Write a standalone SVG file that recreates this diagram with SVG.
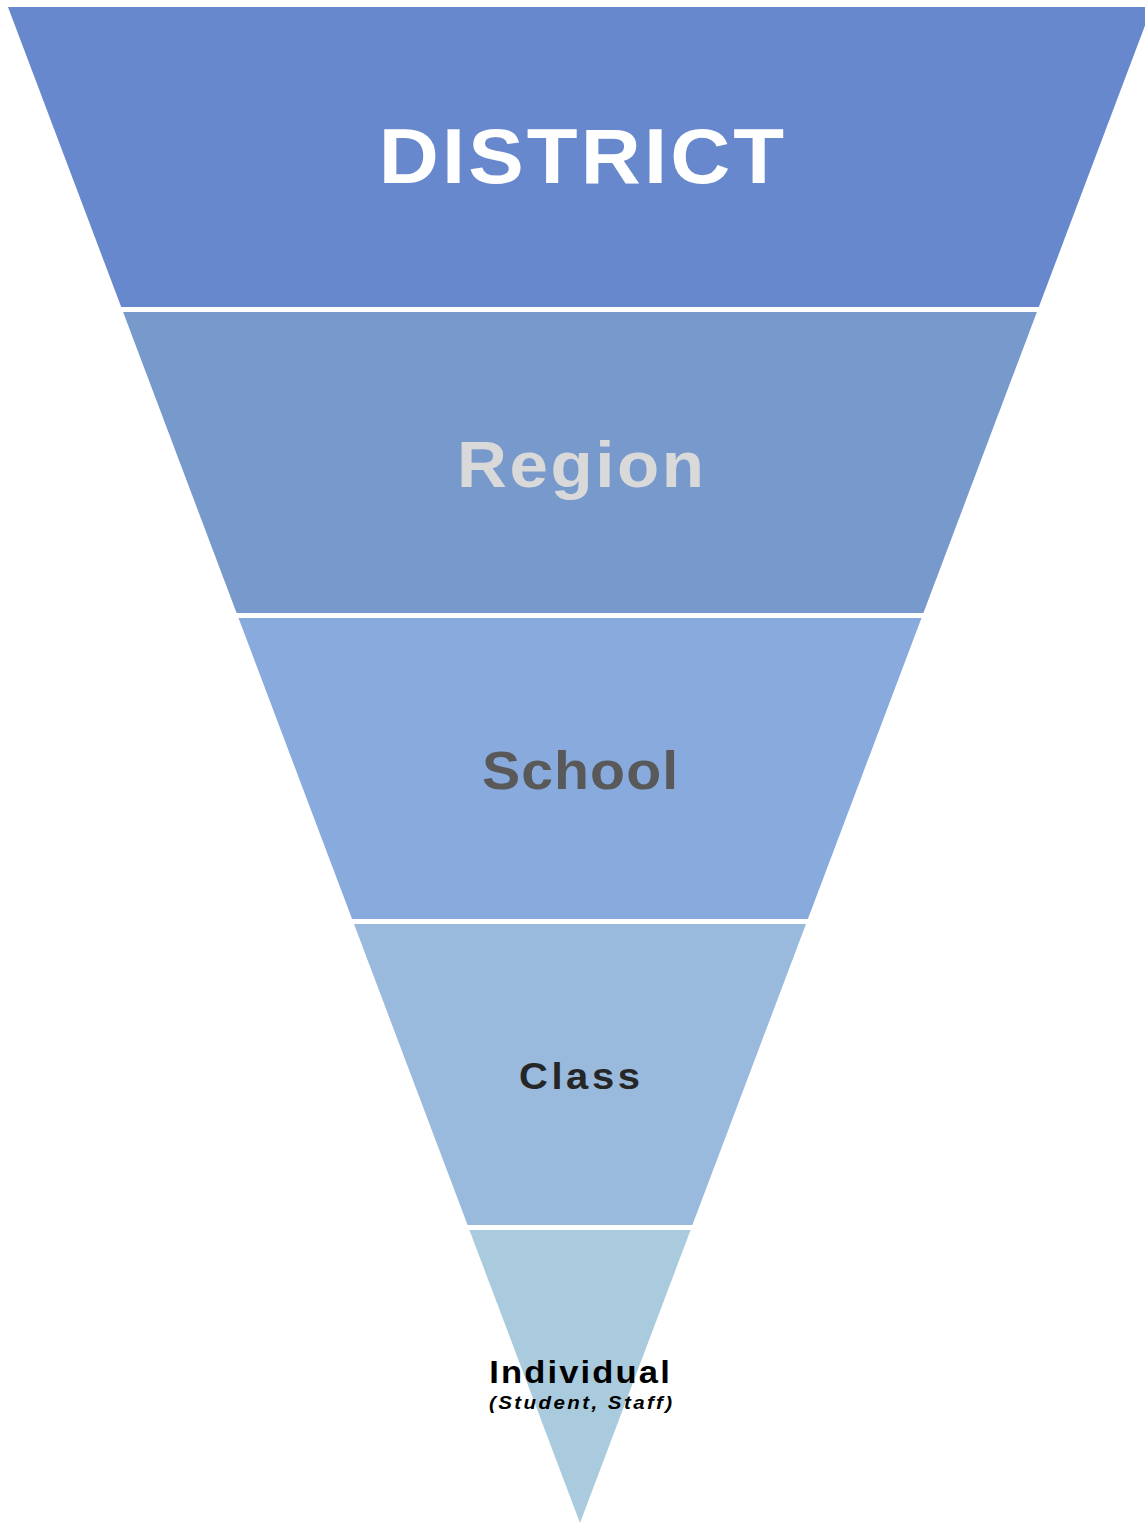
<svg xmlns="http://www.w3.org/2000/svg" width="1145" height="1523" viewBox="0 0 1145 1523">
<style>
.t{font-family:"Liberation Sans",Arial,sans-serif;font-weight:bold;text-anchor:middle}
</style>
<rect width="1145" height="1523" fill="#FFFFFF"/>
<g id="district">
<polygon points="8,7 1152,7 1038.8,307 121.2,307" fill="#6788CD"/>
<text class="t" transform="translate(581.5,183) scale(1.08,1)" x="1.4" y="0" font-size="77" letter-spacing="2.9" fill="#FFFFFF">DISTRICT</text>
</g>
<g id="region">
<polygon points="123.1,312 1036.9,312 923.4,613 236.6,613" fill="#7899CC"/>
<text class="t" transform="translate(580.5,487) scale(1.08,1)" x="1.2" y="0" font-size="64" letter-spacing="2.4" fill="#D9D9D9">Region</text>
</g>
<g id="school">
<polygon points="238.5,618 921.5,618 807.9,919 352.1,919" fill="#88AADD"/>
<text class="t" transform="translate(580,789) scale(1.08,1)" x="0.5" y="0" font-size="53" letter-spacing="1.0" fill="#595959">School</text>
</g>
<g id="class">
<polygon points="354,924 806,924 692.4,1225 467.6,1225" fill="#99BADD"/>
<text class="t" transform="translate(579.5,1089) scale(1.08,1)" x="1.6" y="0" font-size="37" letter-spacing="3.3" fill="#262626">Class</text>
</g>
<g id="individual">
<polygon points="469.4,1230 690.6,1230 580,1523" fill="#AACBDD"/>
<text class="t" transform="translate(579.5,1383) scale(1.08,1)" x="1" y="0" font-size="32" letter-spacing="2.0" fill="#000000">Individual</text>
<text class="t" transform="translate(580.5,1409) scale(1.08,1)" x="1.1" y="0" font-size="19" font-style="italic" letter-spacing="2.25" fill="#000000">(Student, Staff)</text>
</g>
<g id="connectors"/>
</svg>
